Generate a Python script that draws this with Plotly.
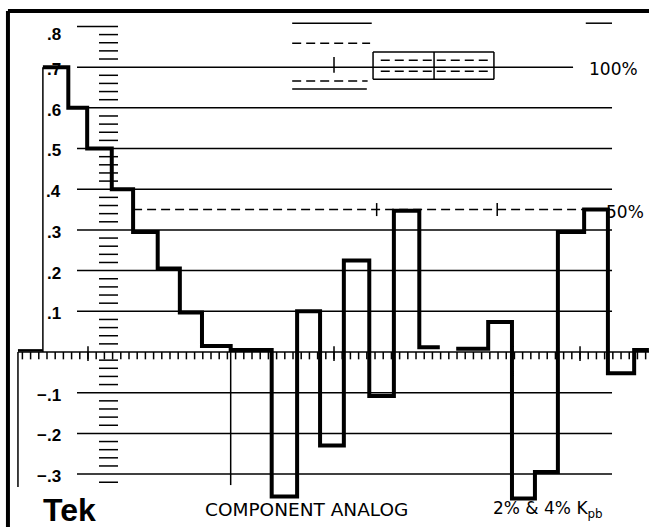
import plotly.graph_objects as go

# ---------------- data (x in microseconds, y in volts) ----------------
# staircase / component test signal
step_edges_a = [4.5, 7.6, 9.9, 12.9, 15.5, 18.5, 21.2, 23.9, 27.4, 32.4, 35.5,
                38.3, 41.2, 44.3, 47.3, 50.4, 52.9]
step_levels_a = [0.70, 0.60, 0.50, 0.40, 0.295, 0.205, 0.097, 0.015, 0.005,
                 -0.355, 0.10, -0.23, 0.225, -0.108, 0.347, 0.012]
step_edges_b = [54.9, 58.8, 61.7, 64.5, 67.3, 70.5, 73.4, 76.6, 78.4]
step_levels_b = [0.008, 0.074, -0.36, -0.295, 0.295, 0.35, -0.052, 0.005]

# graticule
grid_levels = [0.6, 0.5, 0.4, 0.3, 0.2, 0.1, -0.1, -0.2, -0.3]
scale_values = [0.8, 0.7, 0.6, 0.5, 0.4, 0.3, 0.2, 0.1, -0.1, -0.2, -0.3]
scale_labels = [".8", ".7", ".6", ".5", ".4", ".3", ".2", ".1", "\u2212.1", "\u2212.2", "\u2212.3"]
ladder_values = [round(0.78 - 0.02 * i, 2) for i in range(56)]
ladder_values = [v for v in ladder_values if abs(round(v * 10) - v * 10) > 1e-6]
minor_ticks = list(range(2, 79))
major_ticks = [10, 40, 70]
level_100 = 0.70
level_50 = 0.35
cross_marks = [45.2, 59.9]

X0, X1 = -0.73, 78.41
Y0, Y1 = -0.43, 0.865
GX0, GX1 = 8.66, 73.9

fig = go.Figure()

def seg_trace(segs, width, dash="solid", color="black"):
    xs, ys = [], []
    for (xa, ya, xb, yb) in segs:
        xs += [xa, xb, None]
        ys += [ya, yb, None]
    fig.add_trace(go.Scatter(x=xs, y=ys, mode="lines",
                             line=dict(color=color, width=width, dash=dash),
                             hoverinfo="skip", showlegend=False))

# thin solid graticule lines
thin = []
for v in grid_levels:
    thin.append((GX0, v, GX1, v))
thin.append((GX0, 0.8, 13.66, 0.8))
thin.append((GX0, level_100, 69.15, level_100))
thin.append((1.46, 0.0, X1, 0.0))
for v in ladder_values:
    thin.append((11.34, v, 13.66, v))
for t in minor_ticks:
    thin.append((t, 0.0, t, -0.018))
for t in major_ticks:
    thin.append((t, 0.014, t, -0.022))
# fast edges (thin)
thin.append((4.5, 0.0, 4.5, 0.70))
thin.append((1.46, 0.0, 1.46, -0.332))
thin.append((27.4, 0.0, 27.4, -0.327))
# tolerance marks near 100 %
thin.append((34.9, 0.808, 44.6, 0.808))
thin.append((34.9, 0.646, 44.0, 0.646))
thin.append((40.0, 0.686, 40.0, 0.725))
thin.append((70.7, 0.808, 73.9, 0.808))
# box
bx0, bx1, by0, by1 = 44.76, 59.5, 0.670, 0.737
thin += [(bx0, by0, bx1, by0), (bx1, by0, bx1, by1), (bx1, by1, bx0, by1), (bx0, by1, bx0, by0)]
thin.append((52.2, by0, 52.2, by1))
for c in cross_marks:
    thin.append((c, level_50 - 0.016, c, level_50 + 0.016))
seg_trace(thin, 1.5)

# dashed lines
dashed = [(15.5, level_50, 71.0, level_50),
          (34.9, 0.759, 44.4, 0.759),
          (34.9, 0.666, 44.1, 0.666),
          (45.7, 0.717, 59.0, 0.717),
          (45.7, 0.690, 59.0, 0.690)]
for d in dashed:
    seg_trace([d], 1.5, dash="9px,5px")

# blanking before the staircase
seg_trace([(1.46, 0.004, 4.5, 0.004)], 2.5)

# thick signal trace
for edges, levels in [(step_edges_a, step_levels_a), (step_edges_b, step_levels_b)]:
    fig.add_trace(go.Scatter(x=edges, y=levels + [levels[-1]], mode="lines",
                             line=dict(color="black", width=4, shape="hv"),
                             hoverinfo="skip", showlegend=False))

# frame
seg_trace([(0.24, 0.838, 0.24, Y0), (0.24, 0.838, X1, 0.838)], 4)

ann = []
for v, t in zip(scale_values, scale_labels):
    yy = v - 0.02 if v == 0.8 else v - 0.006
    ann.append(dict(x=6.95, y=yy, text="<b>" + t + "</b>", xanchor="right", yanchor="middle",
                    font=dict(family="Liberation Sans", size=17, color="black")))
ann.append(dict(x=70.9, y=level_100 - 0.004, text="100%", xanchor="left", yanchor="middle",
                font=dict(family="DejaVu Sans", size=17, color="black")))
ann.append(dict(x=78.0, y=level_50 - 0.006, text="50%", xanchor="right", yanchor="middle",
                font=dict(family="DejaVu Sans", size=17, color="black")))
ann.append(dict(x=4.3, y=-0.388, text="<b>Tek</b>", xanchor="left", yanchor="middle",
                font=dict(family="Liberation Sans", size=32, color="black")))
ann.append(dict(x=36.6, y=-0.388, text="COMPONENT ANALOG", xanchor="center", yanchor="middle",
                font=dict(family="DejaVu Sans", size=18.5, color="black")))
ann.append(dict(x=66.1, y=-0.388, text="2% &amp; 4% K<sub>pb</sub>", xanchor="center", yanchor="middle",
                font=dict(family="DejaVu Sans", size=17, color="black")))
for a in ann:
    a.update(xref="x", yref="y", showarrow=False)

fig.update_layout(
    width=649, height=527, margin=dict(l=0, r=0, t=0, b=0),
    paper_bgcolor="white", plot_bgcolor="white",
    xaxis=dict(range=[X0, X1], visible=False, fixedrange=True),
    yaxis=dict(range=[Y0, Y1], visible=False, fixedrange=True),
    annotations=ann, showlegend=False,
)

fig.write_html("out.html", config={"displayModeBar": False},
               post_script="document.body.style.margin='0';document.body.style.overflow='hidden';")
